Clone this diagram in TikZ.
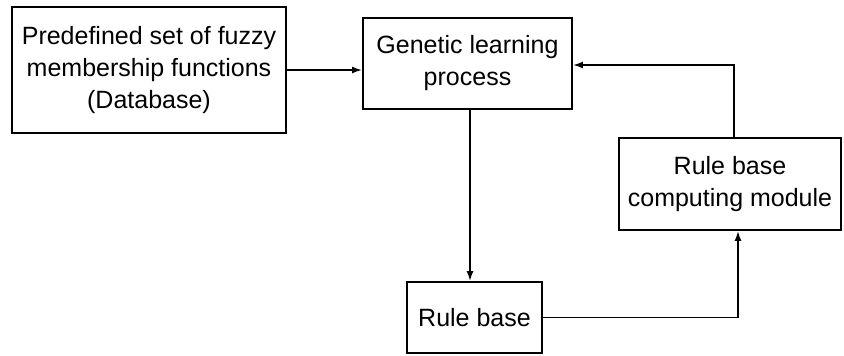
\documentclass[tikz,border=0pt]{standalone}
\usepackage{fontspec}
\setmainfont{Liberation Sans}
\usetikzlibrary{arrows.meta}
\tikzset{
  block/.style={draw, line width=1.8pt, rectangle, align=center, inner sep=0pt,
    font=\fontsize{25}{32}\selectfont},
  flow/.style={line width=1.8pt, -{Latex[length=10pt,width=7pt]}}
}
\begin{document}
\begin{tikzpicture}[x=1pt,y=-1pt]
  \useasboundingbox (0,0) rectangle (844,356);
  % blocks
  \node[block, minimum width=274pt, minimum height=126pt] (db) at (149,70)
    {Predefined set of fuzzy\\membership functions\\(Database)};
  \node[block, minimum width=209pt, minimum height=91pt] (gen) at (467.5,63.5)
    {Genetic learning\\process};
  \node[block, minimum width=222pt, minimum height=92pt] (comp) at (730,184)
    {Rule base\\computing module};
  \node[block, minimum width=135pt, minimum height=71pt] (rb) at (474.5,317.5)
    {Rule base};
  % connectors
  \draw[flow] (db.east) -- (gen.west |- db.east);
  \draw[flow] ([xshift=2.5pt]gen.south) -- ([xshift=2.5pt]gen.south |- rb.north);
  \draw[flow] (rb.east) -| ([xshift=8pt]comp.south);
  \draw[flow] ([xshift=4pt]comp.north) |- ([yshift=-1.5pt]gen.east);
\end{tikzpicture}
\end{document}
